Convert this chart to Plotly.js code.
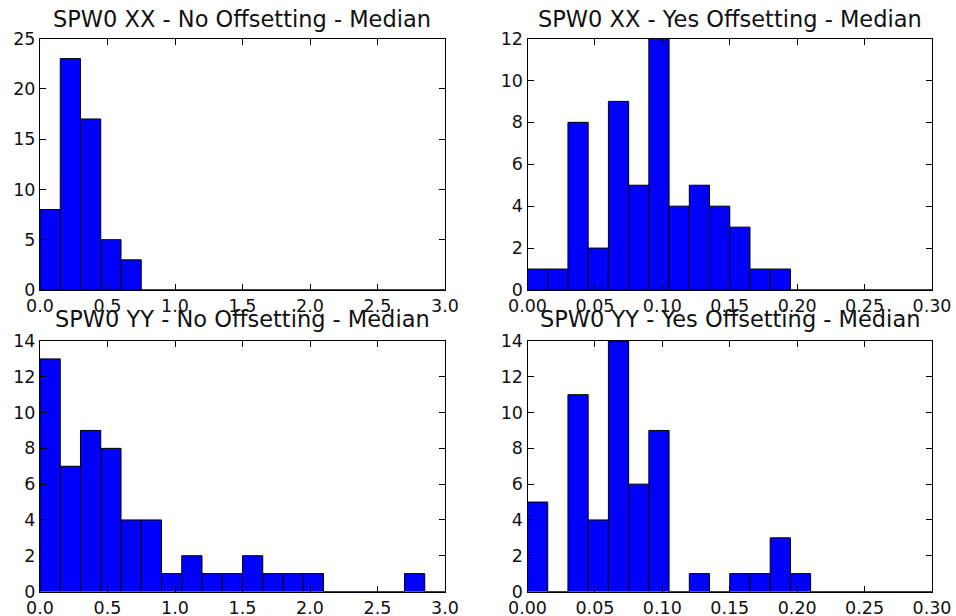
<!DOCTYPE html>
<html>
<head>
<meta charset="utf-8">
<script src="https://cdn.plot.ly/plotly-3.0.1.min.js"></script>
<style>html,body{margin:0;padding:0;background:#fff;}#chart{width:956px;height:616px;}</style>
</head>
<body>
<div id="chart"></div>
<script>
// Histogram bins: 20 bins each
const binWidthNo = 0.15;    // "No Offsetting" panels: 0 .. 3.0
const binWidthYes = 0.015;  // "Yes Offsetting" panels: 0 .. 0.30

const countsXXNo  = [8, 23, 17, 5, 3, 0, 0, 0, 0, 0, 0, 0, 0, 0, 0, 0, 0, 0, 0, 0];
const countsXXYes = [1, 1, 8, 2, 9, 5, 12, 4, 5, 4, 3, 1, 1, 0, 0, 0, 0, 0, 0, 0];
const countsYYNo  = [13, 7, 9, 8, 4, 4, 1, 2, 1, 1, 2, 1, 1, 1, 0, 0, 0, 0, 1, 0];
const countsYYYes = [5, 0, 11, 4, 14, 6, 9, 0, 1, 0, 1, 1, 3, 1, 0, 0, 0, 0, 0, 0];

const titles = [
  "SPW0 XX - No Offsetting - Median",
  "SPW0 XX - Yes Offsetting - Median",
  "SPW0 YY - No Offsetting - Median",
  "SPW0 YY - Yes Offsetting - Median"
];

const xTicksNo = [0, 0.5, 1.0, 1.5, 2.0, 2.5, 3.0];
const xTickLabelsNo = ["0.0", "0.5", "1.0", "1.5", "2.0", "2.5", "3.0"];
const xTicksYes = [0, 0.05, 0.10, 0.15, 0.20, 0.25, 0.30];
const xTickLabelsYes = ["0.00", "0.05", "0.10", "0.15", "0.20", "0.25", "0.30"];

const yMax = [25, 12, 14, 14];
const yStep = [5, 2, 2, 2];

function edges(n, w) { const a = []; for (let i = 0; i < n; i++) a.push(i * w); return a; }

const panels = [
  {counts: countsXXNo, w: binWidthNo},
  {counts: countsXXYes, w: binWidthYes},
  {counts: countsYYNo, w: binWidthNo},
  {counts: countsYYYes, w: binWidthYes}
];

const traces = panels.map((p, i) => ({
  type: 'bar',
  x: edges(p.counts.length, p.w),
  y: p.counts,
  width: p.w,
  offset: 0,
  xaxis: 'x' + (i === 0 ? '' : i + 1),
  yaxis: 'y' + (i === 0 ? '' : i + 1),
  marker: {color: '#0000ff', line: {color: '#000000', width: 1}},
  hoverinfo: 'skip'
}));

const W = 956, H = 616;
const colDom = [[40 / W, 445 / W], [527.5 / W, 932 / W]];
const rowDom = [[1 - 290 / H, 1 - 38.5 / H], [1 - 591.5 / H, 1 - 341 / H]];

const tickFont = {family: 'DejaVu Sans', size: 17.5, color: '#111'};

const layout = {
  width: W, height: H,
  margin: {l: 0, r: 0, t: 0, b: 0},
  paper_bgcolor: '#fff', plot_bgcolor: '#fff',
  showlegend: false,
  bargap: 0,
  hovermode: false,
  annotations: []
};

for (let i = 0; i < 4; i++) {
  const col = i % 2, row = Math.floor(i / 2);
  const sfx = i === 0 ? '' : String(i + 1);
  const isNo = col === 0;
  const yt = []; for (let v = 0; v <= yMax[i]; v += yStep[i]) yt.push(v);
  layout['xaxis' + sfx] = {
    domain: colDom[col],
    anchor: 'y' + sfx,
    range: isNo ? [0, 3.0] : [0, 0.30],
    tickmode: 'array',
    tickvals: isNo ? xTicksNo : xTicksYes,
    ticktext: isNo ? xTickLabelsNo : xTickLabelsYes,
    ticks: 'inside', ticklen: 6, tickwidth: 1, tickcolor: '#000',
    showline: true, linecolor: '#000', linewidth: 1, mirror: 'ticks',
    showgrid: false, zeroline: false,
    tickfont: tickFont,
    fixedrange: true
  };
  layout['yaxis' + sfx] = {
    domain: rowDom[row],
    anchor: 'x' + sfx,
    range: [0, yMax[i]],
    tickmode: 'array',
    tickvals: yt,
    ticktext: yt.map(String),
    ticks: 'inside', ticklen: 6, tickwidth: 1, tickcolor: '#000',
    showline: true, linecolor: '#000', linewidth: 1, mirror: 'ticks',
    showgrid: false, zeroline: false,
    tickfont: tickFont,
    fixedrange: true
  };
  layout.annotations.push({
    text: titles[i],
    xref: 'paper', yref: 'paper',
    x: (colDom[col][0] + colDom[col][1]) / 2,
    y: row === 0 ? 1 - 18.5 / H : 1 - 319 / H,
    xanchor: 'center', yanchor: 'middle',
    showarrow: false,
    font: {family: 'DejaVu Sans', size: 22.5, color: '#111'}
  });
}

Plotly.newPlot('chart', traces, layout, {staticPlot: true, displayModeBar: false});
</script>
</body>
</html>
